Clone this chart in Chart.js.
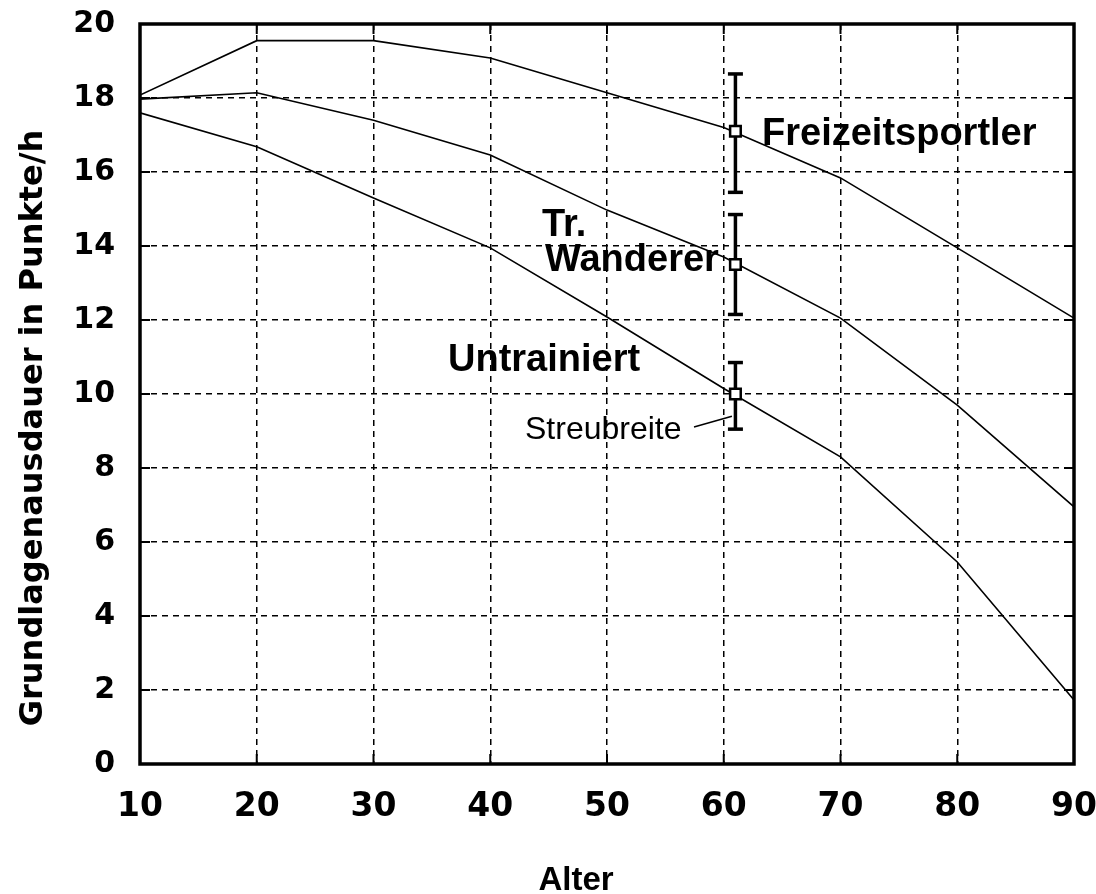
<!DOCTYPE html>
<html>
<head>
<meta charset="utf-8">
<script src="https://cdn.jsdelivr.net/npm/chart.js@4"></script>
<style>
  body { margin: 0; background: #fff; }
  #wrap { width: 1096px; height: 894px; position: relative; }
</style>
</head>
<body>
<div id="wrap"><canvas id="chart"></canvas></div>
<script>
/* =====================================================
   DATA
===================================================== */

const ages = [10, 20, 30, 40, 50, 60, 70, 80, 90];

const freizeit    = [18.08, 19.55, 19.55, 19.08, 18.14, 17.2, 15.84, 13.95, 12.05];
const wanderer    = [17.97, 18.14, 17.4, 16.46, 14.97, 13.7, 12.05, 9.7, 6.95];
const untrainiert = [17.6, 16.68, 15.3, 13.95, 12.08, 10.15, 8.3, 5.46, 1.73];

// Streubreite at age 61 (centre, low, high) for the three groups
const errAge    = 61;
const errCenter = [17.1, 13.5, 10.0];
const errLow    = [15.45, 12.15, 9.05];
const errHigh   = [18.65, 14.85, 10.85];

const xTicks = [10, 20, 30, 40, 50, 60, 70, 80, 90];
const yTicks = [0, 2, 4, 6, 8, 10, 12, 14, 16, 18, 20];

const xTitle = "Alter";
const yTitle = "Grundlagenausdauer in Punkte/h";


/* =====================================================
   HELPERS
===================================================== */

const toPoints = ys => ages.map((x, i) => ({ x: x, y: ys[i] }));

function curve(ys) {
  return {
    type: "line",
    data: toPoints(ys),
    borderColor: "#000",
    borderWidth: 1.6,
    pointRadius: 0,
    tension: 0,
    order: 3
  };
}

function errorBar(i) {
  return {
    type: "line",
    data: [{ x: errAge, y: errLow[i] }, { x: errAge, y: errHigh[i] }],
    borderColor: "#000",
    borderWidth: 3.5,
    pointStyle: "line",
    pointRadius: 7.5,
    pointBorderWidth: 3.5,
    pointBorderColor: "#000",
    order: 2
  };
}


/* =====================================================
   FRAME, TICK MARKS AND TEXT LABELS
===================================================== */

const framePlugin = {
  id: "frame",
  afterDraw(chart) {
    const { ctx, chartArea: a, scales } = chart;
    ctx.save();

    // short solid tick marks on all four sides
    ctx.strokeStyle = "#000";
    ctx.lineWidth = 2;
    ctx.beginPath();
    xTicks.forEach(v => {
      const px = scales.x.getPixelForValue(v);
      ctx.moveTo(px, a.bottom); ctx.lineTo(px, a.bottom - 10);
      ctx.moveTo(px, a.top);    ctx.lineTo(px, a.top + 10);
    });
    yTicks.forEach(v => {
      const py = scales.y.getPixelForValue(v);
      ctx.moveTo(a.left, py);  ctx.lineTo(a.left + 10, py);
      ctx.moveTo(a.right, py); ctx.lineTo(a.right - 10, py);
    });
    ctx.stroke();

    // thick frame
    ctx.lineWidth = 3.5;
    ctx.strokeRect(a.left, a.top, a.right - a.left, a.bottom - a.top);

    // group labels
    ctx.fillStyle = "#000";
    ctx.textBaseline = "alphabetic";
    ctx.textAlign = "left";
    ctx.font = "bold 38px 'Liberation Sans', Arial, sans-serif";
    ctx.fillText("Freizeitsportler", 762, 145);
    ctx.fillText("Tr.", 542, 236);
    ctx.fillText("Wanderer", 545, 271);
    ctx.fillText("Untrainiert", 448, 371);

    ctx.font = "32px 'Liberation Sans', Arial, sans-serif";
    ctx.fillText("Streubreite", 525, 439);

    // leader line from "Streubreite" to the error bar
    ctx.lineWidth = 1.5;
    ctx.beginPath();
    ctx.moveTo(694, 427);
    ctx.lineTo(scales.x.getPixelForValue(60.7), scales.y.getPixelForValue(9.4));
    ctx.stroke();

    // axis titles
    ctx.font = "bold 33px 'Liberation Sans', Arial, sans-serif";
    ctx.textAlign = "center";
    ctx.fillText(xTitle, 576, 890);

    ctx.translate(42, 428);
    ctx.rotate(-Math.PI / 2);
    ctx.font = "bold 32px 'DejaVu Sans', sans-serif";
    ctx.fillText(yTitle, 0, 0);

    ctx.restore();
  }
};


/* =====================================================
   CHART
===================================================== */

new Chart(document.getElementById("chart"), {
  type: "line",
  data: {
    datasets: [
      curve(freizeit),
      curve(wanderer),
      curve(untrainiert),
      errorBar(0),
      errorBar(1),
      errorBar(2),
      {
        type: "scatter",
        data: errCenter.map(y => ({ x: errAge, y: y })),
        pointStyle: "rect",
        pointRadius: 7.5,
        pointBackgroundColor: "#fff",
        pointBorderColor: "#000",
        pointBorderWidth: 2.5,
        order: 1
      }
    ]
  },
  options: {
    responsive: true,
    maintainAspectRatio: false,
    animation: false,
    layout: { padding: { left: 0, right: 22, top: 24, bottom: 0 } },
    plugins: {
      legend: { display: false },
      tooltip: { enabled: false }
    },
    scales: {
      x: {
        type: "linear",
        min: 10,
        max: 90,
        afterBuildTicks: s => { s.ticks = xTicks.map(v => ({ value: v })); },
        afterFit: s => {
          s.height = 130;
          s.paddingLeft = 0; s.paddingRight = 0;
        },
        grid: { color: "#000", lineWidth: 1.5, drawTicks: false },
        border: { display: false, dash: [6, 5] },
        ticks: {
          color: "#000",
          padding: 24,
          maxRotation: 0,
          font: { family: "'DejaVu Sans', sans-serif", weight: "bold", size: 33 }
        }
      },
      y: {
        type: "linear",
        min: 0,
        max: 20,
        afterBuildTicks: s => { s.ticks = yTicks.map(v => ({ value: v })); },
        afterFit: s => {
          s.width = 140;
          s.paddingTop = 0; s.paddingBottom = 0;
        },
        grid: { color: "#000", lineWidth: 1.5, drawTicks: false },
        border: { display: false, dash: [6, 5] },
        ticks: {
          color: "#000",
          padding: 25,
          font: { family: "'DejaVu Sans', sans-serif", weight: "bold", size: 30 }
        }
      }
    }
  },
  plugins: [framePlugin]
});
</script>
</body>
</html>
